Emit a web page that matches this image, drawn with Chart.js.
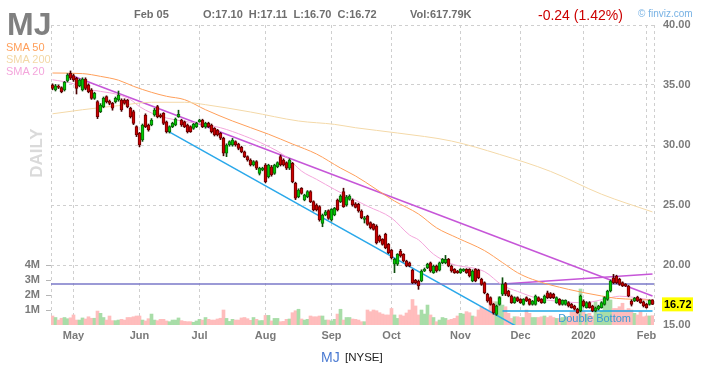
<!DOCTYPE html>
<html>
<head>
<meta charset="utf-8">
<script src="https://cdn.jsdelivr.net/npm/chart.js@4/dist/chart.umd.min.js"></script>
<style>
  body { margin: 0; background: #fff; }
  #wrap { position: relative; width: 705px; height: 367px; overflow: hidden; font-family: "Liberation Sans", Arial, sans-serif; }
  #chart { position: absolute; left: 0; top: 0; }
  .t { position: absolute; white-space: pre; line-height: 1; }
  .hd { font-size: 11px; font-weight: bold; color: #6e6e6e; top: 9px; }
</style>
</head>
<body>
<div id="wrap">
  <canvas id="chart" width="705" height="367"></canvas>
  <div class="t" style="left:7px;top:8px;font-size:32px;font-weight:bold;color:#808080">MJ</div>
  <div class="t" style="left:6px;top:41.5px;font-size:11px;color:#ff9f5a">SMA 50</div>
  <div class="t" style="left:6px;top:53.5px;font-size:11px;color:#f3d8a6">SMA 200</div>
  <div class="t" style="left:6px;top:65.5px;font-size:11px;color:#f4a6dc">SMA 20</div>
  <div class="t" style="left:36px;top:153px;font-size:17px;font-weight:bold;color:#dadada;transform:translate(-50%,-50%) rotate(-90deg)">DAILY</div>
  <div class="t hd" style="left:134px">Feb 05</div>
  <div class="t hd" style="left:203px">O:17.10  H:17.11  L:16.70  C:16.72</div>
  <div class="t hd" style="left:410px">Vol:617.79K</div>
  <div class="t" style="left:538px;top:8px;font-size:14px;color:#cc0000">-0.24 (1.42%)</div>
  <div class="t" style="left:638px;top:8.5px;font-size:10px;color:#78b2e4">&copy; finviz.com</div>
  <div class="t" style="left:321px;top:350px;font-size:14px;color:#4a7ad2">MJ</div>
  <div class="t" style="left:345px;top:351.5px;font-size:11.5px;color:#222">[NYSE]</div>
</div>
<script>
// trading days Apr 22 2019 .. Feb 05 2020, index 0..200
const monthIdx = [7, 29, 49, 71, 93, 113, 136, 156, 177, 198];
const monthLbl = ['May', 'Jun', 'Jul', 'Aug', 'Sep', 'Oct', 'Nov', 'Dec', '2020', 'Feb'];
const priceTicks = [15, 20, 25, 30, 35, 40];
const volTicks = [1, 2, 3, 4];

const openP = [
  35.00, 34.58, 34.92, 34.78, 34.58, 35.33, 35.97, 35.78, 35.56, 34.94,
  34.58, 35.50, 35.00, 34.58, 33.89, 33.61, 32.78, 33.20, 34.03, 33.67,
  33.47, 33.61, 33.75, 33.75, 33.75, 33.75, 33.06, 32.78, 31.53, 30.97,
  30.42, 32.50, 31.67, 31.67, 32.50, 33.20, 32.50, 32.64, 31.94, 31.11,
  31.53, 31.67, 32.36, 32.08, 31.94, 31.67, 31.53, 31.39, 31.53, 31.94,
  32.08, 31.50, 31.80, 31.67, 31.39, 31.25, 30.97, 30.56, 29.31, 30.00,
  30.00, 30.28, 30.08, 29.80, 29.44, 29.03, 28.75, 28.33, 28.61, 27.64,
  27.92, 28.33, 27.36, 28.19, 27.64, 28.19, 29.03, 28.75, 28.53, 28.06,
  28.47, 26.80, 25.69, 26.39, 25.42, 25.69, 26.11, 25.28, 25.00, 24.86,
  23.47, 24.17, 24.53, 23.75, 24.17, 25.42, 25.28, 26.11, 25.00, 25.47,
  25.42, 25.10, 25.06, 24.50, 23.80, 24.08, 23.53, 23.39, 23.25, 22.42,
  22.14, 22.56, 21.72, 21.22, 20.06, 20.06, 21.17, 20.89, 20.33, 20.19,
  19.58, 18.72, 18.67, 18.67, 19.50, 19.78, 20.19, 19.36, 19.92, 19.56,
  20.19, 20.19, 20.47, 19.92, 19.64, 19.50, 19.36, 19.50, 19.64, 19.64,
  18.67, 19.64, 19.56, 18.81, 18.53, 17.56, 17.28, 16.72, 15.89, 16.72,
  17.56, 18.45, 17.83, 17.42, 16.86, 17.28, 17.14, 16.72, 17.28, 17.14,
  16.72, 16.72, 17.28, 17.14, 16.86, 17.69, 17.61, 17.56, 16.86, 17.14,
  16.72, 16.72, 16.86, 16.72, 16.58, 16.31, 16.17, 17.00, 16.44, 16.86,
  16.58, 16.17, 16.31, 16.44, 16.72, 17.14, 17.83, 18.94, 19.08, 18.81,
  18.53, 18.39, 18.25, 17.00, 17.00, 17.33, 17.14, 16.94, 16.72, 16.72,
  17.10
];
const highP = [
  35.10, 35.05, 35.00, 34.85, 35.30, 35.95, 36.17, 35.90, 35.65, 35.50,
  35.60, 35.60, 35.10, 34.70, 34.40, 33.70, 33.45, 34.00, 34.10, 33.75,
  33.55, 34.00, 34.50, 33.85, 33.85, 33.80, 33.15, 32.90, 31.60, 31.05,
  31.75, 32.60, 31.75, 32.20, 33.05, 33.30, 32.60, 32.70, 32.00, 31.60,
  31.90, 32.25, 32.90, 32.15, 32.00, 31.75, 31.60, 31.80, 31.90, 32.15,
  32.15, 31.90, 31.90, 31.75, 31.45, 31.30, 31.05, 30.65, 30.10, 30.35,
  30.55, 30.35, 30.15, 29.90, 29.50, 29.10, 28.85, 28.70, 28.70, 28.15,
  28.15, 28.45, 28.40, 28.30, 28.40, 28.60, 29.17, 28.85, 28.60, 28.85,
  28.55, 26.90, 26.35, 26.45, 25.90, 26.20, 26.20, 25.35, 25.10, 24.95,
  24.25, 24.55, 24.60, 24.70, 24.80, 25.50, 25.85, 26.40, 25.80, 25.85,
  25.50, 25.20, 25.15, 24.60, 24.05, 24.15, 23.60, 23.45, 23.35, 22.50,
  22.20, 22.65, 21.80, 21.30, 20.55, 20.95, 21.30, 20.95, 20.40, 20.25,
  19.65, 18.80, 18.75, 19.60, 19.75, 20.15, 20.25, 20.00, 20.00, 20.25,
  20.55, 20.80, 20.55, 20.00, 19.70, 19.55, 19.70, 19.70, 19.70, 19.70,
  19.60, 19.70, 19.65, 18.90, 18.60, 17.65, 17.35, 16.80, 16.65, 17.35,
  18.94, 18.55, 17.90, 17.50, 17.35, 17.35, 17.20, 17.20, 17.35, 17.20,
  17.05, 17.50, 17.35, 17.20, 17.50, 17.83, 17.70, 17.65, 17.35, 17.20,
  17.10, 17.10, 16.95, 16.80, 16.65, 16.40, 17.50, 17.10, 16.95, 16.95,
  16.65, 16.50, 16.65, 16.95, 17.35, 17.90, 18.75, 19.22, 19.15, 18.90,
  18.60, 18.45, 18.30, 17.10, 17.30, 17.40, 17.20, 17.00, 16.80, 17.10,
  17.11
];
const lowP = [
  34.60, 34.50, 34.70, 34.35, 34.50, 35.25, 35.45, 35.30, 34.25, 34.85,
  34.50, 34.60, 34.35, 33.80, 33.80, 32.20, 32.70, 33.10, 33.50, 33.35,
  32.90, 33.50, 33.65, 32.80, 33.40, 33.10, 32.25, 31.70, 30.70, 29.85,
  30.30, 31.45, 31.15, 31.60, 32.40, 32.26, 32.26, 31.70, 31.00, 31.00,
  31.45, 31.60, 32.30, 31.55, 31.45, 31.00, 31.05, 31.30, 31.45, 31.90,
  31.45, 31.40, 31.45, 31.00, 30.75, 30.75, 30.45, 29.10, 29.03, 29.90,
  29.90, 29.90, 29.60, 29.35, 28.95, 28.65, 28.25, 28.25, 27.95, 27.50,
  27.85, 26.85, 27.25, 27.40, 27.55, 28.10, 28.25, 28.25, 27.95, 27.95,
  26.85, 25.45, 25.60, 25.90, 25.35, 25.60, 25.20, 24.50, 24.50, 23.65,
  23.19, 24.10, 23.80, 23.65, 24.10, 24.50, 25.20, 24.80, 24.90, 25.40,
  24.90, 24.75, 24.40, 23.85, 23.50, 23.30, 23.00, 22.90, 21.75, 21.90,
  21.65, 21.35, 20.95, 20.50, 19.36, 19.95, 20.65, 20.25, 19.85, 19.85,
  18.45, 18.45, 17.97, 18.60, 19.45, 19.70, 19.40, 19.30, 19.40, 19.50,
  20.10, 20.10, 19.85, 19.40, 19.30, 19.30, 19.30, 19.45, 19.30, 19.00,
  18.60, 18.60, 18.85, 18.30, 17.60, 16.90, 16.65, 15.90, 15.80, 16.65,
  17.45, 17.45, 17.35, 16.80, 16.80, 16.95, 16.80, 16.65, 16.95, 16.65,
  16.65, 16.65, 16.95, 16.80, 16.80, 17.20, 17.20, 17.20, 16.80, 16.65,
  16.65, 16.65, 16.50, 16.40, 16.25, 15.97, 16.10, 16.50, 16.40, 16.40,
  16.10, 16.10, 16.25, 16.40, 16.65, 17.05, 17.75, 18.45, 18.45, 18.30,
  18.20, 18.20, 17.35, 16.58, 16.95, 16.95, 16.80, 16.50, 16.40, 16.65,
  16.70
];
const closeP = [
  34.72, 34.94, 34.80, 34.44, 35.22, 35.83, 35.56, 35.42, 34.72, 35.42,
  35.50, 34.72, 34.44, 33.89, 34.30, 32.36, 33.33, 33.89, 33.61, 33.47,
  33.06, 33.89, 34.17, 32.92, 33.47, 33.20, 32.36, 31.80, 30.83, 30.00,
  31.67, 31.53, 31.25, 32.08, 32.92, 32.36, 32.36, 31.80, 31.11, 31.53,
  31.80, 32.17, 32.56, 31.67, 31.53, 31.11, 31.11, 31.72, 31.80, 32.08,
  31.53, 31.80, 31.53, 31.11, 30.83, 30.83, 30.56, 29.31, 30.00, 30.28,
  30.42, 30.00, 29.72, 29.44, 29.03, 28.75, 28.33, 28.61, 28.06, 28.06,
  28.06, 26.94, 28.33, 27.50, 28.33, 28.53, 28.33, 28.33, 28.06, 28.75,
  26.94, 25.56, 26.25, 25.97, 25.83, 26.11, 25.28, 24.58, 24.58, 23.75,
  24.17, 24.44, 23.89, 24.64, 24.72, 24.58, 25.75, 24.86, 25.69, 25.75,
  25.00, 24.80, 24.50, 23.94, 23.94, 23.39, 23.11, 22.97, 21.86, 22.00,
  21.72, 21.44, 21.03, 20.61, 20.47, 20.89, 20.75, 20.33, 19.92, 19.92,
  18.53, 18.53, 18.25, 19.50, 19.64, 20.06, 19.50, 19.92, 19.50, 20.19,
  20.47, 20.47, 19.92, 19.50, 19.36, 19.36, 19.64, 19.64, 19.36, 19.08,
  19.50, 18.67, 18.94, 18.39, 17.69, 17.00, 16.72, 16.03, 16.58, 17.28,
  18.39, 17.56, 17.42, 16.86, 17.28, 17.00, 16.86, 17.14, 17.00, 16.72,
  17.00, 17.42, 17.00, 16.86, 17.42, 17.28, 17.28, 17.28, 17.28, 16.72,
  17.06, 17.06, 16.58, 16.44, 16.31, 16.03, 17.42, 16.58, 16.86, 16.44,
  16.17, 16.44, 16.58, 16.86, 17.28, 17.83, 18.67, 18.53, 18.53, 18.39,
  18.25, 18.25, 17.42, 16.72, 17.22, 17.00, 16.86, 16.58, 16.44, 17.06,
  16.72
];
// volume in millions
const volume = [
  0.60, 0.50, 0.33, 0.45, 0.50, 0.42, 0.48, 0.67, 0.33, 0.33,
  0.47, 0.40, 0.55, 0.45, 0.45, 0.93, 0.78, 0.50, 0.33, 0.60,
  0.29, 0.29, 0.33, 0.38, 0.33, 0.50, 0.50, 0.55, 0.60, 0.60,
  0.33, 0.27, 0.42, 0.73, 0.33, 0.29, 0.38, 0.38, 0.27, 0.22,
  0.33, 0.33, 0.47, 0.29, 0.24, 0.22, 0.22, 0.18, 0.27, 0.38,
  0.33, 0.50, 0.38, 0.33, 0.33, 0.40, 0.45, 1.00, 0.44, 0.24,
  0.38, 0.33, 0.33, 0.47, 0.50, 0.42, 0.31, 0.50, 0.38, 0.29,
  0.30, 0.64, 0.64, 0.27, 0.44, 0.44, 0.22, 0.24, 0.38, 0.40,
  0.82, 0.95, 1.05, 0.40, 0.33, 0.38, 0.60, 0.55, 0.55, 0.60,
  0.60, 0.33, 0.33, 0.27, 0.38, 0.73, 1.05, 0.33, 0.50, 0.50,
  0.40, 0.38, 0.33, 0.22, 0.22, 1.00, 0.89, 1.00, 0.95, 0.82,
  0.73, 0.67, 0.67, 1.10, 0.67, 0.44, 0.67, 0.60, 0.80, 1.00,
  1.70, 1.27, 0.67, 1.00, 0.73, 1.33, 0.67, 0.50, 0.22, 0.33,
  0.50, 0.44, 0.33, 0.38, 0.44, 0.60, 0.78, 0.73, 0.89, 0.82,
  0.60, 0.55, 1.00, 1.22, 1.10, 1.00, 1.67, 1.55, 1.55, 1.90,
  1.33, 1.22, 0.78, 0.44, 0.55, 0.55, 0.50, 0.50, 1.00, 0.78,
  0.50, 0.50, 0.50, 0.55, 0.60, 0.50, 0.60, 0.50, 0.44, 0.44,
  0.50, 0.55, 0.50, 0.89, 0.89, 0.90, 2.40, 0.89, 0.73, 0.78,
  0.60, 1.55, 0.82, 0.95, 1.90, 2.00, 1.67, 1.10, 1.10, 1.22,
  1.45, 1.00, 1.10, 1.00, 0.78, 0.67, 0.89, 0.55, 0.60, 0.60,
  0.62
];

// moving averages at sample days: [dayIndex, value]
const sma50 = [[0, 36.0], [10, 35.95], [16, 35.72], [22, 35.4], [27, 34.89], [33, 34.39], [38, 34.06],
  [44, 33.78], [51, 32.94], [60, 32.0], [72, 30.9], [80, 30.08], [88, 29.25], [96, 28.08], [101, 27.42],
  [114, 25.33], [122, 24.25], [128, 23.1], [135, 22.25], [144, 21.2], [150, 20.2], [155, 19.36],
  [160, 18.8], [172, 17.97], [183, 17.42], [188, 17.22], [194, 17.14], [200, 17.06]];
const sma200 = [[0, 32.6], [10, 32.94], [22, 33.28], [33, 33.56], [44, 33.56], [51, 33.36], [66, 32.75],
  [82, 32.0], [94, 31.72], [101, 31.44], [115, 31.0], [133, 30.33], [149, 29.22], [166, 27.8],
  [183, 25.9], [200, 24.42]];
const sma20 = [[0, 35.44], [7, 35.1], [10, 34.75], [16, 34.47], [22, 34.19], [26, 33.78], [29, 33.2],
  [33, 32.67], [38, 32.25], [44, 31.97], [51, 31.69], [56, 31.44], [64, 30.75], [71, 30.0], [78, 29.0],
  [83, 27.83], [88, 27.14], [94, 26.3], [101, 25.4], [105, 24.9], [113, 23.92], [119, 22.5], [122, 22.1],
  [127, 20.9], [133, 20.1], [144, 19.45], [150, 18.3], [155, 17.8], [162, 17.2], [170, 16.95],
  [177, 16.85], [184, 17.15], [189, 17.4], [194, 17.3], [200, 17.05]];

// drawn trendlines: [dayIndex, price]
const trendTop = [[5, 35.92], [200, 17.42]];
const trendSupport = [[38.3, 31.17], [156, 14.7]];
const trendRise = [[150, 18.42], [200, 19.25]];
const levelLine = [[-0.5, 18.42], [200.5, 18.42]];
const doubleBottom = [[150, 16.17], [200, 16.17]];
const doubleBottomLabel = { text: 'Double Bottom', day: 180.7, price: 16.17 };

const isUp = i => closeP[i] >= openP[i];
const pts = arr => arr.map(p => ({ x: p[0], y: p[1] }));
const FONT = '"Liberation Sans", Arial, sans-serif';

const lineDs = (data, color, width, tension) => ({
  type: 'line', data: pts(data), borderColor: color, borderWidth: width,
  pointRadius: 0, tension: tension, cubicInterpolationMode: tension ? 'monotone' : 'default',
  yAxisID: 'y', xAxisID: 'x', order: 5
});

const overlayText = {
  id: 'overlayText',
  afterDatasetsDraw(chart) {
    const { ctx, chartArea } = chart;
    const x = chart.scales.x, y = chart.scales.y;
    const last = closeP[closeP.length - 1];
    const py = y.getPixelForValue(last);
    ctx.save();
    ctx.fillStyle = '#ffff00';
    ctx.fillRect(chartArea.right + 8, py - 7, 31, 14);
    ctx.fillStyle = '#000';
    ctx.font = 'bold 11px ' + FONT;
    ctx.textAlign = 'left';
    ctx.textBaseline = 'middle';
    ctx.fillText(last.toFixed(2), chartArea.right + 10, py + 0.5);

    ctx.fillStyle = '#3a9ad9';
    ctx.font = '11px ' + FONT;
    ctx.textAlign = 'center';
    ctx.fillText(doubleBottomLabel.text, x.getPixelForValue(doubleBottomLabel.day),
      y.getPixelForValue(doubleBottomLabel.price) + 8.5);
    ctx.restore();
  }
};

new Chart(document.getElementById('chart'), {
  type: 'bar',
  data: {
    datasets: [
      {
        label: 'Volume', data: volume.map((v, i) => ({ x: i, y: v })), yAxisID: 'yv', xAxisID: 'x',
        backgroundColor: c => isUp(c.dataIndex) ? '#a8dda8' : '#ffbdbd',
        barThickness: 3, grouped: false, order: 10
      },
      lineDs(sma200, '#f4d9a8', 1, 0.4),
      lineDs(sma50, '#ff9f5a', 1, 0.4),
      lineDs(sma20, '#f4a6dc', 1, 0.4),
      lineDs(levelLine, '#7a78c8', 1.5, 0),
      lineDs(trendTop, '#c656d8', 1.5, 0),
      lineDs(trendRise, '#c656d8', 1.5, 0),
      lineDs(trendSupport, '#2aa8ea', 1.5, 0),
      lineDs(doubleBottom, '#1ea6e6', 1.5, 0),
      {
        label: 'Wick', data: lowP.map((l, i) => ({ x: i, y: [l, highP[i]] })), yAxisID: 'y', xAxisID: 'x',
        backgroundColor: c => isUp(c.dataIndex) ? '#0b4d0b' : '#4a0000',
        barThickness: 1, grouped: false, order: 2
      },
      {
        label: 'Body', data: openP.map((o, i) => ({ x: i, y: [o, closeP[i]] })), yAxisID: 'y', xAxisID: 'x',
        backgroundColor: c => isUp(c.dataIndex) ? '#00cc00' : '#cc0000',
        borderColor: c => isUp(c.dataIndex) ? '#0a6a0a' : '#6e0000',
        borderWidth: 1, borderSkipped: false,
        barThickness: 3, grouped: false, order: 1
      }
    ]
  },
  options: {
    responsive: false,
    animation: false,
    devicePixelRatio: 1,
    layout: { padding: { top: 25, left: 0, right: 0, bottom: 0 } },
    plugins: { legend: { display: false }, tooltip: { enabled: false } },
    scales: {
      x: {
        type: 'linear', position: 'bottom', min: -0.5, max: 200.5, offset: false,
        afterBuildTicks: s => { s.ticks = [-0.5, ...monthIdx, 200.5].map(v => ({ value: v })); },
        afterFit: s => { s.height = 42; },
        ticks: {
          autoSkip: false, maxRotation: 0, padding: 4, color: '#7a7a7a',
          font: { family: FONT, size: 11, weight: 'bold' },
          callback: v => { const k = monthIdx.indexOf(v); return k >= 0 ? monthLbl[k] : ''; }
        },
        grid: { color: '#cfcfcf', drawTicks: false, offset: false },
        border: { display: false, dash: [3, 3] }
      },
      y: {
        type: 'linear', position: 'right', min: 15, max: 40,
        afterBuildTicks: s => { s.ticks = priceTicks.map(v => ({ value: v })); },
        afterFit: s => { s.width = 51; },
        ticks: {
          padding: 9, color: '#7a7a7a', font: { family: FONT, size: 11, weight: 'bold' },
          callback: v => v.toFixed(2)
        },
        grid: { color: c => (c.tick && c.tick.value === 15) ? 'rgba(0,0,0,0)' : '#cfcfcf', drawTicks: false },
        border: { display: false, dash: [3, 3] }
      },
      yv: {
        type: 'linear', position: 'left', min: 0, max: 20,
        afterBuildTicks: s => { s.ticks = volTicks.map(v => ({ value: v })); },
        afterFit: s => { s.width = 51; },
        ticks: {
          padding: 6, color: '#7a7a7a', font: { family: FONT, size: 11, weight: 'bold' },
          callback: v => v + 'M'
        },
        grid: { drawOnChartArea: false, drawTicks: true, tickLength: 5, tickColor: '#b5b5b5' },
        border: { display: false }
      }
    }
  },
  plugins: [overlayText]
});
</script>
</body>
</html>
